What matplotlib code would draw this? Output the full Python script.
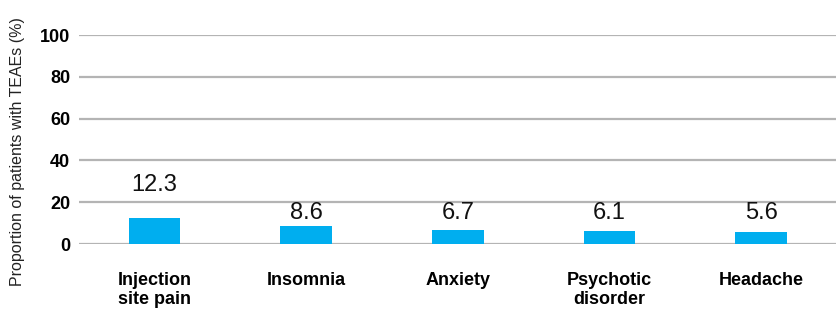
import matplotlib
matplotlib.use("Agg")
import matplotlib.pyplot as plt

categories = ["Injection\nsite pain", "Insomnia", "Anxiety", "Psychotic\ndisorder", "Headache"]
values = [12.3, 8.6, 6.7, 6.1, 5.6]
yticks = [0, 20, 40, 60, 80, 100]

# heights (data units) where the value labels sit, as in the original
label_base = [23.0, 9.8, 9.6, 9.6, 9.6]

plt.rcParams["font.family"] = ["Liberation Sans", "DejaVu Sans"]

fig = plt.figure(figsize=(8.37, 3.13), dpi=100)
ax = fig.add_axes([0.094, 0.2204, 0.906, 0.6677])

x = range(len(categories))
ax.bar(x, values, width=0.34, color="#00aeef", zorder=3)

for xi, v, b in zip(x, values, label_base):
    ax.text(xi, b, f"{v:.1f}", ha="center", va="bottom", fontsize=17, color="#111111")

ax.set_xlim(-0.5, len(categories) - 0.5)
ax.set_ylim(0, 100)
ax.set_yticks(yticks)
ax.yaxis.grid(True, color="#b4b4b4", linewidth=1.6, zorder=0)
ax.set_xticks(list(x))
ax.set_xticklabels(categories, fontsize=13, fontweight="bold", linespacing=1.15)
ax.tick_params(axis="x", length=0, pad=20)
ax.tick_params(axis="y", length=0, pad=6, labelsize=13)
for lab in ax.get_yticklabels():
    lab.set_fontweight("bold")
for s in ax.spines.values():
    s.set_visible(False)

fig.text(0.021, 1 - 152 / 313, "Proportion of patients with TEAEs (%)",
         rotation=90, ha="center", va="center", fontsize=11.5, color="#222222")

fig.savefig("out.png", dpi=100)
